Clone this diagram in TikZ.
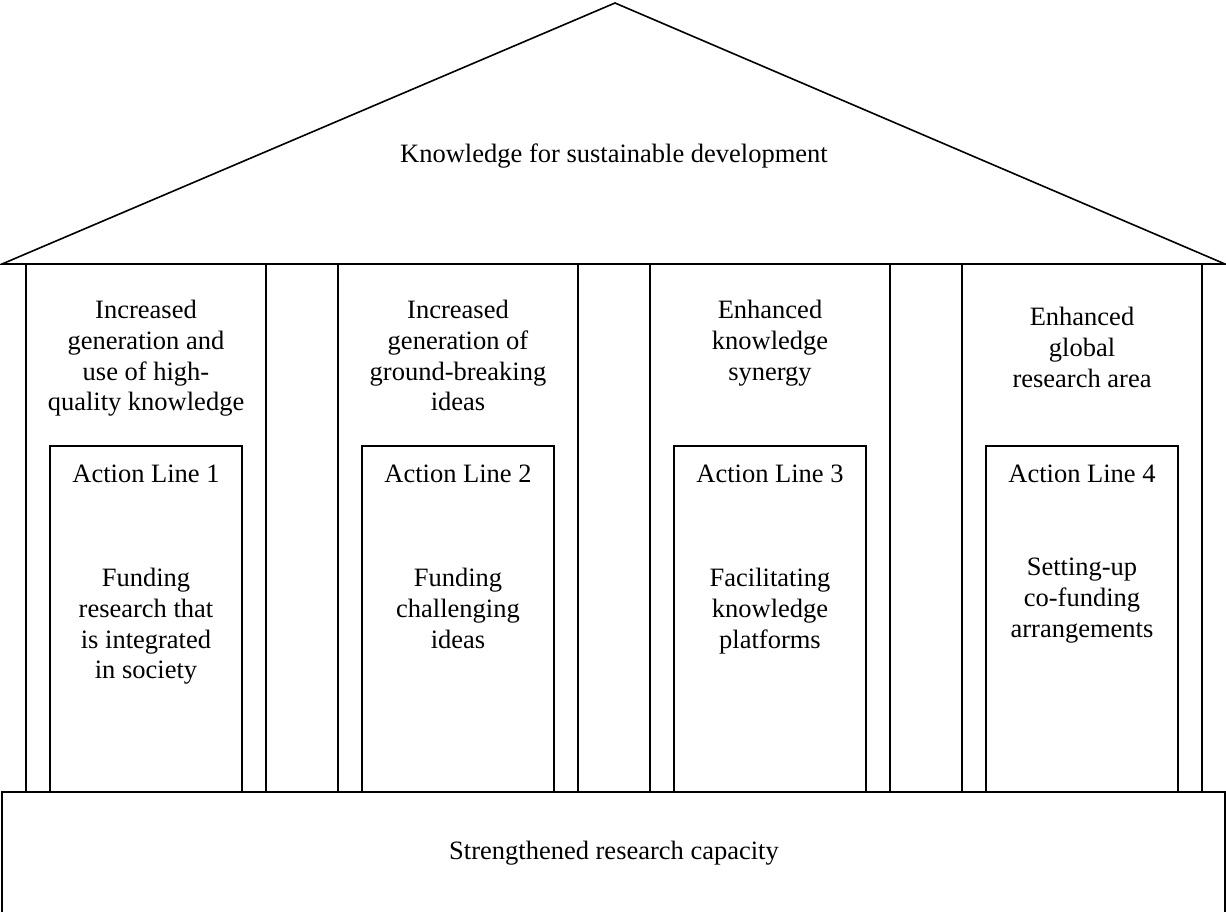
\documentclass[tikz,border=0pt]{standalone}
\usepackage{fontspec}
\setmainfont{Liberation Serif}
\begin{document}
\begin{tikzpicture}[x=1pt,y=-1pt,
  ln/.style={draw=black,line width=1.6pt},
  txt/.style={inner sep=0pt,align=center,anchor=north,font=\fontsize{26.5}{30.8}\selectfont}]
\useasboundingbox (0,0) rectangle (1226,911);
% roof
\coordinate (rl) at (2,264);
\coordinate (ra) at (615,3);
\coordinate (rr) at (1225,264);
\draw[ln,line join=miter] (rl) -- (ra) -- (rr) -- cycle;
% pillars and inner boxes
\foreach \i/\L in {1/26,2/338,3/650,4/962}{
  \draw[ln] (\L,264) rectangle ++(240,528);
  \draw[ln] (\L+24,446) rectangle ++(192,346);
}
% base
\draw[ln] (2,792) rectangle (1225,914);
% texts
\node[txt] (roof) at (614,144) {Knowledge for sustainable development};
\node[txt] (g1) at (146,300) {Increased\\generation and\\use of high-\\quality knowledge};
\node[txt] (g2) at (458,300) {Increased\\generation of\\ground-breaking\\ideas};
\node[txt] (g3) at (770,300) {Enhanced\\knowledge\\synergy};
\node[txt] (g4) at (1082,307) {Enhanced\\global\\research area};
\node[txt] (a1) at (146,465) {Action Line 1};
\node[txt] (a2) at (458,465) {Action Line 2};
\node[txt] (a3) at (770,465) {Action Line 3};
\node[txt] (a4) at (1082,465) {Action Line 4};
\node[txt] (f1) at (146,568) {Funding\\research that\\is integrated\\in society};
\node[txt] (f2) at (458,568) {Funding\\challenging\\ideas};
\node[txt] (f3) at (770,568) {Facilitating\\knowledge\\platforms};
\node[txt] (f4) at (1082,558) {Setting-up\\co-funding\\arrangements};
\node[txt] (base) at (614,841) {Strengthened research capacity};
\end{tikzpicture}
\end{document}
